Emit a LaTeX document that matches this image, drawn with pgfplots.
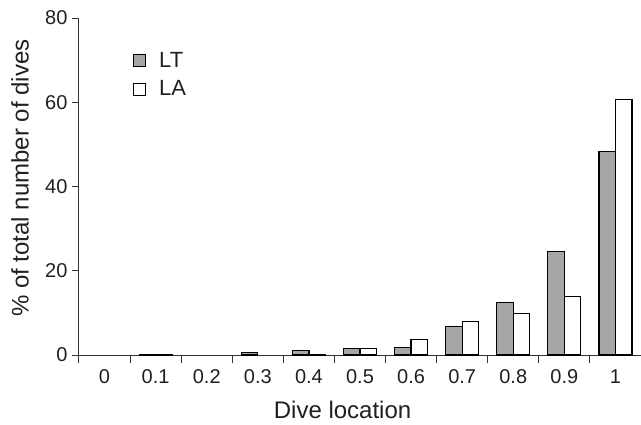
\documentclass[border=0pt]{standalone}
\usepackage{pgfplots}
\pgfplotsset{compat=1.18}
\usepackage{fontspec}
\setmainfont{Liberation Sans}
\definecolor{ltgray}{RGB}{166,166,166}
\definecolor{axgray}{RGB}{50,50,50}
\definecolor{txt}{RGB}{35,31,32}
\begin{document}
\begin{tikzpicture}[font=\fontsize{20}{23}\selectfont]
\begin{axis}[
  at={(79pt,69pt)}, anchor=south west,
  scale only axis, width=562pt, height=337pt,
  /pgf/number format/assume math mode=true,
  tick label style={font=\fontsize{20}{23}\selectfont},
  label style={font=\fontsize{24}{28}\selectfont, text=txt},
  axis lines*=left,
  axis line style={axgray, line width=1pt},
  every tick/.style={axgray, line width=1pt},
  tick align=outside,
  xmin=-0.5, xmax=10.5, ymin=0, ymax=80,
  ytick={0,20,40,60,80},
  xtick={0,...,10},
  xticklabels={0,0.1,0.2,0.3,0.4,0.5,0.6,0.7,0.8,0.9,1},
  major x tick style={draw=none},
  minor xtick={-0.5,0.5,1.5,2.5,3.5,4.5,5.5,6.5,7.5,8.5,9.5},
  major tick length=7pt, minor tick length=8pt,
  xticklabel style={text=txt, yshift=-4pt},
  yticklabel style={text=txt, xshift=-1pt},
  ylabel={\% of total number of dives},
  xlabel={Dive location},
  ylabel style={at={(axis description cs:-0.105,0.525)}, anchor=center},
  xlabel style={at={(axis description cs:0.469,-0.163)}, anchor=center},
  ybar=0pt, bar width=16.5pt,
  legend style={draw=none, fill=none, at={(axis description cs:0.096,0.905)}, anchor=north west,
    inner sep=0pt, row sep=8pt, text=txt, font=\fontsize{22}{26}\selectfont,
    /tikz/every odd column/.append style={column sep=11pt}},
  legend cell align=left,
  legend image code/.code={\draw[#1, line width=1pt] (0pt,-6pt) rectangle (12pt,6pt);},
  clip=false,
]
\addplot[draw=black, line width=1.2pt, fill=ltgray] coordinates {
 (1,0.2) (3,0.6) (4,1.0) (5,1.6) (6,1.8) (7,6.7) (8,12.5) (9,24.5) (10,48.3)};
\addplot[draw=black, line width=1.2pt, fill=white] coordinates {
 (1,0.2) (4,0.2) (5,1.6) (6,3.6) (7,8.0) (8,9.8) (9,13.9) (10,60.7)};
\legend{LT,LA}
\end{axis}
\pgfresetboundingbox
\path[use as bounding box] (0,0) rectangle (641pt,424pt);
\end{tikzpicture}
\end{document}
